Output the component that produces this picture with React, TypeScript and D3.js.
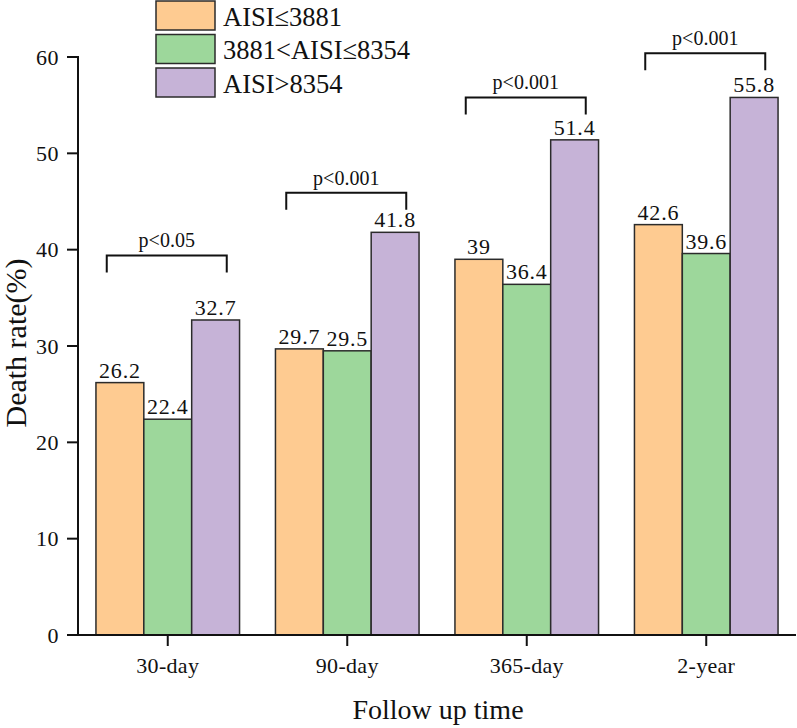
import React from "react";
import * as d3 from "d3";

const categories = ["30-day", "90-day", "365-day", "2-year"];
const seriesNames = ["AISI≤3881", "3881<AISI≤8354", "AISI>8354"];
const lowValues = [26.2, 29.7, 39, 42.6];
const midValues = [22.4, 29.5, 36.4, 39.6];
const highValues = [32.7, 41.8, 51.4, 55.8];
const pLabels = ["p<0.05", "p<0.001", "p<0.001", "p<0.001"];
const bracketLevels = [39.4, 45.9, 55.8, 60.4];
const yTicks = [0, 10, 20, 30, 40, 50, 60];

const colors = ["#FECB91", "#9DD79B", "#C6B3D7"];
const FONT = "Liberation Serif, Times New Roman, serif";

export default function App() {
  const width = 797;
  const height = 728;
  const series = [lowValues, midValues, highValues];

  const x0 = d3.scaleBand<string>().domain(categories).range([78, 796]).paddingInner(0.2).paddingOuter(0.1);
  const x1 = d3.scaleBand<number>().domain([0, 1, 2]).range([0, x0.bandwidth()]);
  const y = d3.scaleLinear().domain([0, 60]).range([635, 57]);

  const axisX = 78;
  const axisY = y(0);
  const txt = { fontFamily: FONT, fill: "#111" };

  return (
    <svg width={width} height={height} style={{ display: "block", position: "absolute", left: 0, top: 0, background: "#fff", fontFamily: FONT }}>
      {/* bars */}
      {categories.map((c, i) =>
        series.map((vals, s) => (
          <rect
            key={c + s}
            x={(x0(c) ?? 0) + (x1(s) ?? 0)}
            y={y(vals[i])}
            width={x1.bandwidth()}
            height={y(0) - y(vals[i])}
            fill={colors[s]}
            stroke="#2b2b2b"
            strokeWidth={1.5}
          />
        ))
      )}
      {/* value labels */}
      {categories.map((c, i) =>
        series.map((vals, s) => (
          <text
            key={"v" + c + s}
            x={(x0(c) ?? 0) + (x1(s) ?? 0) + x1.bandwidth() / 2}
            y={y(vals[i]) - 5}
            textAnchor="middle"
            fontSize={22}
            letterSpacing={0.8}
            style={txt}
          >
            {String(vals[i])}
          </text>
        ))
      )}
      {/* significance brackets */}
      {categories.map((c, i) => {
        const cx = (x0(c) ?? 0) + x0.bandwidth() / 2 - 1;
        const top = y(bracketLevels[i]);
        const left = cx - 60;
        const right = cx + 60;
        return (
          <g key={"b" + c}>
            <path
              d={`M${left},${top + 17}V${top}H${right}V${top + 17}`}
              fill="none"
              stroke="#111"
              strokeWidth={2}
            />
            <text x={cx} y={top - 8} textAnchor="middle" fontSize={20} style={txt}>
              {pLabels[i]}
            </text>
          </g>
        );
      })}
      {/* y axis */}
      <line x1={axisX} x2={axisX} y1={y(60) - 1} y2={axisY} stroke="#111" strokeWidth={2} />
      {yTicks.map((t) => (
        <g key={"yt" + t}>
          <line x1={axisX - 11} x2={axisX} y1={y(t)} y2={y(t)} stroke="#111" strokeWidth={2} />
          <text x={axisX - 19} y={y(t) + 7.5} textAnchor="end" fontSize={22} letterSpacing={0.5} style={txt}>
            {t}
          </text>
        </g>
      ))}
      {/* x axis */}
      <line x1={axisX - 1} x2={796} y1={axisY} y2={axisY} stroke="#111" strokeWidth={2} />
      {categories.map((c) => {
        const cx = (x0(c) ?? 0) + x0.bandwidth() / 2;
        return (
          <g key={"xt" + c}>
            <line x1={cx} x2={cx} y1={axisY} y2={axisY + 11} stroke="#111" strokeWidth={2} />
            <text x={cx} y={axisY + 38} textAnchor="middle" fontSize={22} letterSpacing={0.3} style={txt}>
              {c}
            </text>
          </g>
        );
      })}
      {/* axis titles */}
      <text x={438} y={719} textAnchor="middle" fontSize={28} style={txt}>
        Follow up time
      </text>
      <text transform={`translate(26,343) rotate(-90)`} textAnchor="middle" fontSize={30} style={txt}>
        Death rate(%)
      </text>
      {/* legend */}
      {seriesNames.map((name, s) => {
        const top = 1 + s * 33.5;
        return (
          <g key={"lg" + s}>
            <rect x={156} y={top} width={59} height={29} fill={colors[s]} stroke="#2b2b2b" strokeWidth={1.5} />
            <text x={223} y={top + 24.5} fontSize={26.5} style={txt}>
              {name}
            </text>
          </g>
        );
      })}
    </svg>
  );
}
